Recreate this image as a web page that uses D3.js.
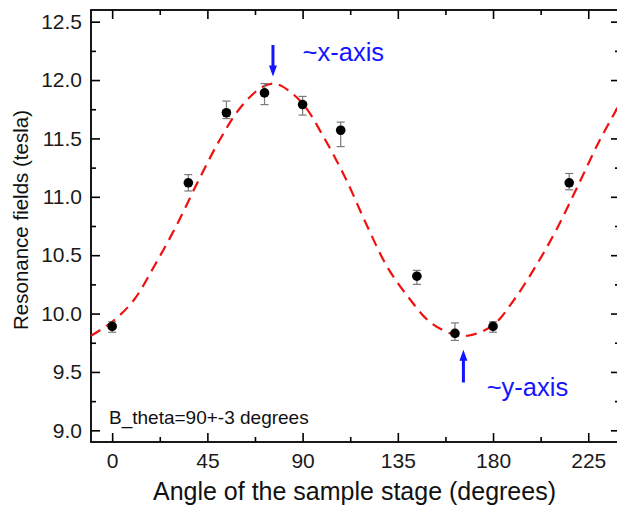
<!DOCTYPE html>
<html>
<head>
<meta charset="utf-8">
<script src="https://cdn.jsdelivr.net/npm/d3@7"></script>
<style>
  body { margin: 0; background: #fff; }
  text { font-family: "Liberation Sans", Arial, sans-serif; }
</style>
</head>
<body>
<svg width="617" height="506"></svg>
<script>
// measured points
var angles = [0, 36, 54, 72, 90, 108, 144, 162, 180, 216];
var fields = [9.89, 11.12, 11.72, 11.89, 11.79, 11.57, 10.32, 9.83, 9.89, 11.12];
var errLow = [0.05, 0.07, 0.05, 0.10, 0.09, 0.14, 0.07, 0.06, 0.05, 0.06];
var errHigh = [0.04, 0.07, 0.10, 0.08, 0.07, 0.07, 0.05, 0.09, 0.04, 0.08];

// fitted curve
var fitAngles = [-10, 0, 10, 20, 30, 40, 50, 60, 70, 76, 80, 90, 100, 110, 120, 130, 140, 150, 160, 168, 180, 190, 200, 210, 220, 230, 240];
var fitFields = [9.81, 9.93, 10.11, 10.41, 10.74, 11.11, 11.46, 11.75, 11.93, 11.97, 11.95, 11.80, 11.51, 11.17, 10.77, 10.40, 10.14, 9.93, 9.83, 9.81, 9.90, 10.12, 10.40, 10.72, 11.09, 11.47, 11.80];

var xTicks = [0, 45, 90, 135, 180, 225];
var xMinor = [22.5, 67.5, 112.5, 157.5, 202.5];
var yTicks = [9.0, 9.5, 10.0, 10.5, 11.0, 11.5, 12.0, 12.5];
var yMinor = [9.25, 9.75, 10.25, 10.75, 11.25, 11.75, 12.25];

var svg = d3.select("svg"),
    margin = {top: 10, right: 620, bottom: 442, left: 91};

var x = d3.scaleLinear().domain([-10, 240]).range([margin.left, margin.right]);
var y = d3.scaleLinear().domain([8.9, 12.6]).range([margin.bottom, margin.top]);

var fmt = d3.format(".1f");

function styleAxis(g) {
  g.select(".domain").remove();
  g.selectAll(".tick line").attr("stroke", "#000").attr("stroke-width", 1.6);
  g.selectAll(".tick text").attr("font-size", 21).attr("fill", "#1a1a1a");
}

// bottom
svg.append("g")
    .attr("transform", "translate(0," + margin.bottom + ")")
    .call(d3.axisBottom(x).tickValues(xTicks).tickSize(-9).tickSizeOuter(0).tickPadding(11))
    .call(styleAxis);
svg.append("g")
    .attr("transform", "translate(0," + margin.bottom + ")")
    .call(d3.axisBottom(x).tickValues(xMinor).tickSize(-5).tickFormat(""))
    .call(styleAxis);
// top
svg.append("g")
    .attr("transform", "translate(0," + margin.top + ")")
    .call(d3.axisTop(x).tickValues(xTicks).tickSize(-9).tickFormat(""))
    .call(styleAxis);
svg.append("g")
    .attr("transform", "translate(0," + margin.top + ")")
    .call(d3.axisTop(x).tickValues(xMinor).tickSize(-5).tickFormat(""))
    .call(styleAxis);
// left
svg.append("g")
    .attr("transform", "translate(" + margin.left + ",0)")
    .call(d3.axisLeft(y).tickValues(yTicks).tickSize(-9).tickPadding(9).tickFormat(fmt))
    .call(styleAxis);
svg.append("g")
    .attr("transform", "translate(" + margin.left + ",0)")
    .call(d3.axisLeft(y).tickValues(yMinor).tickSize(-5).tickFormat(""))
    .call(styleAxis);
// right
svg.append("g")
    .attr("transform", "translate(" + margin.right + ",0)")
    .call(d3.axisRight(y).tickValues(yTicks).tickSize(-9).tickFormat(""))
    .call(styleAxis);
svg.append("g")
    .attr("transform", "translate(" + margin.right + ",0)")
    .call(d3.axisRight(y).tickValues(yMinor).tickSize(-5).tickFormat(""))
    .call(styleAxis);

// frame
svg.append("rect")
    .attr("x", margin.left)
    .attr("y", margin.top)
    .attr("width", margin.right - margin.left)
    .attr("height", margin.bottom - margin.top)
    .attr("fill", "none")
    .attr("stroke", "#000")
    .attr("stroke-width", 1.8);

// fit line
var line = d3.line()
    .x(function(d) { return x(d[0]); })
    .y(function(d) { return y(d[1]); })
    .curve(d3.curveCatmullRom);

svg.append("path")
    .datum(d3.zip(fitAngles, fitFields))
    .attr("d", line)
    .attr("fill", "none")
    .attr("stroke", "#f01010")
    .attr("stroke-width", 2.2)
    .attr("stroke-dasharray", "11,7");

// error bars
var pts = angles.map(function(a, i) {
  return {a: a, v: fields[i], lo: fields[i] - errLow[i], hi: fields[i] + errHigh[i]};
});

var eb = svg.append("g").attr("stroke", "#7a7a7a").attr("stroke-width", 1.2);
eb.selectAll(".stem").data(pts).enter().append("line")
    .attr("x1", function(d) { return x(d.a); })
    .attr("x2", function(d) { return x(d.a); })
    .attr("y1", function(d) { return y(d.lo); })
    .attr("y2", function(d) { return y(d.hi); });
eb.selectAll(".capHi").data(pts).enter().append("line")
    .attr("x1", function(d) { return x(d.a) - 4; })
    .attr("x2", function(d) { return x(d.a) + 4; })
    .attr("y1", function(d) { return y(d.hi); })
    .attr("y2", function(d) { return y(d.hi); });
eb.selectAll(".capLo").data(pts).enter().append("line")
    .attr("x1", function(d) { return x(d.a) - 4; })
    .attr("x2", function(d) { return x(d.a) + 4; })
    .attr("y1", function(d) { return y(d.lo); })
    .attr("y2", function(d) { return y(d.lo); });

svg.append("g").selectAll("circle")
  .data(pts)
  .enter().append("circle")
    .attr("cx", function(d) { return x(d.a); })
    .attr("cy", function(d) { return y(d.v); })
    .attr("r", 4.8)
    .attr("fill", "#000");

// arrows
function arrow(xp, y0, y1) {
  var dir = y1 > y0 ? 1 : -1, head = 11;
  var p = d3.path();
  p.moveTo(xp - 1.5, y0);
  p.lineTo(xp + 1.5, y0);
  p.lineTo(xp + 1.5, y1 - dir * head);
  p.lineTo(xp + 4, y1 - dir * head);
  p.lineTo(xp, y1);
  p.lineTo(xp - 4, y1 - dir * head);
  p.lineTo(xp - 1.5, y1 - dir * head);
  p.closePath();
  svg.append("path").attr("d", p.toString()).attr("fill", "#1414ff");
}
arrow(x(76), y(12.30), y(12.03));
arrow(x(166), y(9.41), y(9.69));

svg.append("text")
    .attr("x", x(90))
    .attr("y", y(12.16))
    .attr("font-size", 25.5)
    .attr("fill", "#1414ff")
    .text("~x-axis");
svg.append("text")
    .attr("x", x(177))
    .attr("y", y(9.29))
    .attr("font-size", 25.5)
    .attr("fill", "#1414ff")
    .text("~y-axis");

svg.append("text")
    .attr("x", 109)
    .attr("y", 424)
    .attr("font-size", 19)
    .attr("fill", "#111")
    .text("B_theta=90+-3 degrees");

// axis titles
svg.append("text")
    .attr("x", 354.5)
    .attr("y", 500)
    .attr("text-anchor", "middle")
    .attr("font-size", 25)
    .attr("fill", "#111")
    .text("Angle of the sample stage (degrees)");

svg.append("text")
    .attr("transform", "translate(28,220) rotate(-90)")
    .attr("text-anchor", "middle")
    .attr("font-size", 20.5)
    .attr("fill", "#111")
    .text("Resonance fields (tesla)");
</script>
</body>
</html>
